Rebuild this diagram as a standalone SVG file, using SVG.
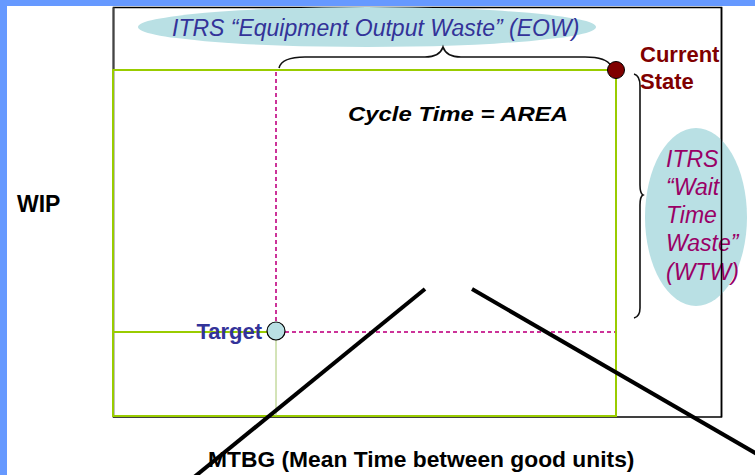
<svg xmlns="http://www.w3.org/2000/svg" width="755" height="475" viewBox="0 0 755 475">
  <defs>
    <style>
      text { font-family: "Liberation Sans", Arial, sans-serif; }
      .bold { font-weight: bold; }
      .itrs { font-style: italic; font-size: 23px; fill: #333399; }
      .wtw { font-style: italic; font-size: 23px; fill: #990066; }
      .waste { fill: #b9e0e4; }
      .green { fill: none; stroke: #99cc00; stroke-width: 2; }
      .dash { fill: none; stroke: #cc3399; stroke-width: 2; stroke-dasharray: 4 3; }
      .brace { fill: none; stroke: #111; stroke-width: 1.6; }
      .arm { stroke: #000; stroke-width: 4; }
    </style>
    <linearGradient id="leftEdge" x1="0" y1="0" x2="0" y2="1">
      <stop offset="0" stop-color="#6b8a00"/>
      <stop offset="1" stop-color="#7fa600"/>
    </linearGradient>
  </defs>

  <rect width="755" height="475" fill="#ffffff"/>
  <!-- blue frame strips -->
  <rect x="0" y="0" width="755" height="6" fill="#6699ff"/>
  <rect x="0" y="0" width="7" height="475" fill="#6699ff"/>

  <!-- outer chart box -->
  <rect x="113.5" y="7.5" width="608" height="409.5" fill="none" stroke="#000" stroke-width="1.5"/>
  <line x1="113.5" y1="7.5" x2="113.5" y2="70" stroke="#444" stroke-width="2"/>

  <!-- top waste label -->
  <g id="eow">
    <ellipse class="waste" cx="367" cy="27" rx="229" ry="20"/>
    <text class="itrs" x="172" y="36">ITRS “Equipment Output Waste” (EOW)</text>
  </g>

  <!-- right waste label -->
  <g id="wtw">
    <ellipse class="waste" cx="696" cy="217" rx="51" ry="89"/>
    <text class="wtw" x="666" y="167">ITRS</text>
    <text class="wtw" x="666" y="195">“Wait</text>
    <text class="wtw" x="666" y="223">Time</text>
    <text class="wtw" x="666" y="251">Waste”</text>
    <text class="wtw" x="666" y="280">(WTW)</text>
  </g>
  <line x1="721.5" y1="7" x2="721.5" y2="417" stroke="#000" stroke-width="1.5"/>

  <!-- WIP x MTBG areas -->
  <g id="areas">
    <rect class="green" x="113" y="70" width="503" height="346"/>
    <line x1="113" y1="332" x2="276" y2="332" stroke="#99cc00" stroke-width="2"/>
    <line x1="276" y1="332" x2="276" y2="416" stroke="#a8c870" stroke-width="1"/>
    <line x1="113" y1="70" x2="113" y2="332" stroke="url(#leftEdge)" stroke-width="2.5"/>
  </g>

  <!-- connectors -->
  <g id="connectors">
    <line class="dash" x1="276" y1="72" x2="276" y2="324"/>
    <line class="dash" x1="285" y1="332" x2="615" y2="332"/>
    <path class="brace" d="M279,68 C281,60 290,57 305,57 L425,57 C436,57 441,53 443,47 C445,53 450,57 461,57 L585,57 C600,57 608,60 611,66"/>
    <path class="brace" d="M634,74 C638,75 640,79 640,86 L640,185 C640,191 641,194 643,195 C641,196 640,199 640,205 L640,308 C640,314 638,317 634,318"/>
    <line class="arm" x1="425" y1="289" x2="193" y2="478"/>
    <line class="arm" x1="472" y1="289" x2="757" y2="454"/>
  </g>

  <g id="current-state">
    <circle cx="616" cy="70" r="8.5" fill="#800000" stroke="#000" stroke-width="1"/>
    <text class="bold" x="640" y="62" font-size="22" fill="#800000">Current</text>
    <text class="bold" x="640" y="89" font-size="22" fill="#800000">State</text>
  </g>

  <g id="target">
    <circle cx="276" cy="331" r="9" fill="#b9e0e4" stroke="#000" stroke-width="1.2"/>
    <text class="bold" x="262" y="339" font-size="22" fill="#333399" text-anchor="end">Target</text>
  </g>

  <g id="labels">
    <text class="bold" x="348" y="121" font-size="19.5" font-style="italic" textLength="220" lengthAdjust="spacingAndGlyphs">Cycle Time  = AREA</text>
    <text class="bold" x="17" y="212" font-size="23">WIP</text>
    <text class="bold" x="208" y="467" font-size="22.8">MTBG (Mean Time between good units)</text>
  </g>
</svg>
